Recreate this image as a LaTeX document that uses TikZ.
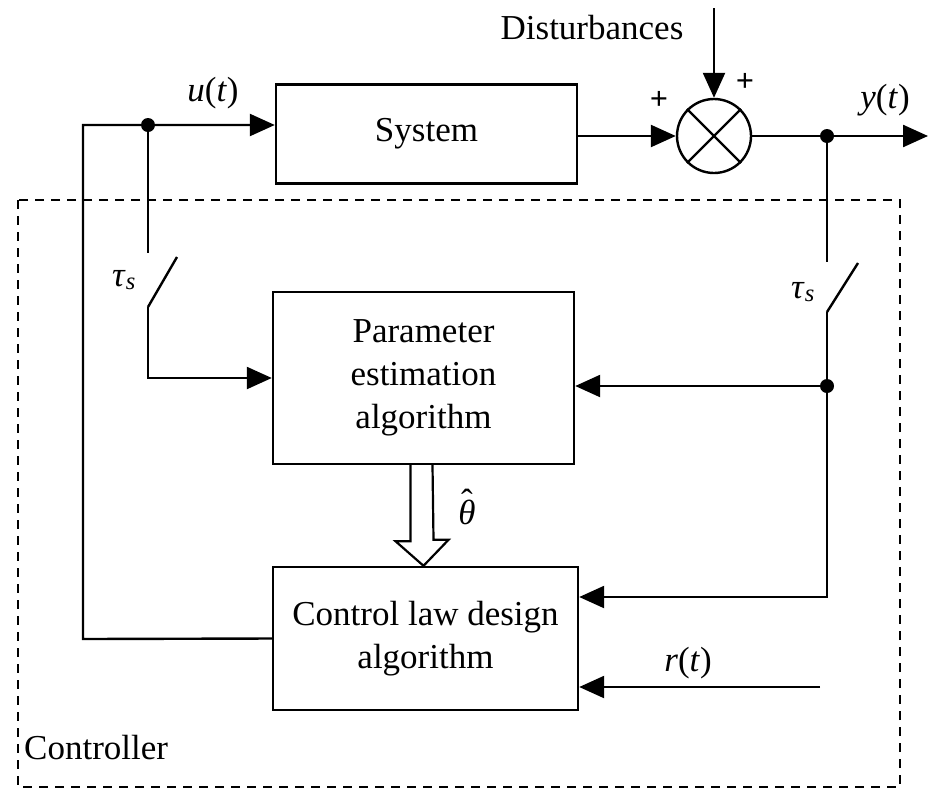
\documentclass[tikz,border=0pt]{standalone}
\usepackage{fontspec}
\setmainfont{Liberation Serif}
\usetikzlibrary{arrows.meta,calc}
\begin{document}
\begin{tikzpicture}[x=1pt,y=-1pt,
  every node/.style={font=\fontsize{35}{43}\selectfont},
  blk/.style={draw,line width=2.4pt,rectangle,inner sep=0pt,align=center},
  wire/.style={line width=2.4pt},
  arr/.style={wire,-{Triangle[length=25pt,width=22pt]}},
  junc/.style={circle,fill=black,inner sep=0pt,minimum size=14pt},
  lbl/.style={inner sep=0pt},
  pm/.style={inner sep=0pt,font=\fontsize{32}{32}\selectfont\bfseries},
  ctrlbox/.style={draw,line width=2.2pt,dash pattern=on 9pt off 7pt}
]
\useasboundingbox (0,0) rectangle (936,796);
% dashed controller boundary
\draw[ctrlbox] (18,200) rectangle (900,787);
\node[lbl,anchor=west] (ctl) at (24,748) {Controller};

% blocks
\node[blk,minimum width=301pt,minimum height=99pt] (sys) at (426.5,134) {System};
\node[blk,minimum width=301pt,minimum height=172pt] (param) at (423.5,378) {Parameter\\estimation\\algorithm};
\node[blk,minimum width=305pt,minimum height=143pt] (ctrl) at (425.5,638.5) {Control law design\\algorithm};
\node[draw,circle,line width=2.4pt,minimum size=74pt,inner sep=0pt] (sum) at (714,136) {};
\draw[wire] (sum.north west) -- (sum.south east);
\draw[wire] (sum.north east) -- (sum.south west);

% coordinates
\coordinate (dist) at (714,8);
\coordinate (yout) at (928,136);
\coordinate (lc) at (83,125);
\coordinate (lb) at (83,639);
\coordinate (sw1a) at (148,253);
\coordinate (sw1b) at (148,307);
\coordinate (sw1c) at (177,257);
\coordinate (sw1d) at (148,378);
\coordinate (sw2a) at (827,262);
\coordinate (sw2b) at (827,312);
\coordinate (sw2c) at (858,263);
\coordinate (sw2d) at (827,597);
\coordinate (rin) at (820,687);
\node[junc] (uj) at (148,125) {};
\node[junc] (yj) at (827,136) {};
\node[junc] (pj) at (827,386) {};

% top path
\draw[arr] (ctrl.west) -- (lb) -- (lc) -- (uj) -- (sys.west |- uj);
\draw[arr] (sys.east |- sum) -- (sum.west);
\draw[arr] (dist) -- (sum.north);
\draw[arr] (sum.east) -- (yj) -- (yout);

% left sampler
\draw[wire] (uj) -- (sw1a);
\draw[wire] (sw1b) -- (sw1c);
\draw[arr] (sw1b) -- (sw1d) -- (param.west |- sw1d);

% right sampler
\draw[wire] (yj) -- (sw2a);
\draw[wire] (sw2b) -- (sw2c);
\draw[wire] (sw2b) -- (pj);
\draw[arr] (pj) -- (param.east |- pj);
\draw[arr] (pj) -- (sw2d) -- (ctrl.east |- sw2d);
\draw[arr] (rin) -- (ctrl.east |- rin);

% parameter estimate (hollow arrow)
\draw[line width=2.2pt,fill=white,line join=miter]
  ([xshift=-13pt]param.south) -- ++(0,76) -- ++(-15,0) -- ($(ctrl.north)+(-2,0)$) -- ++(25,-26) -- ++(-15,0) -- ([xshift=9pt]param.south);

% labels
\node[lbl] (dlab) at (592,28) {Disturbances};
\node[pm] (p1) at (659,100) {+};
\node[pm] (p2) at (745,82) {+};
\node[lbl] (ulab) at (213,93) {\textit{u}(\textit{t})};
\node[lbl] (ylab) at (885,100) {\textit{y}(\textit{t})};
\node[lbl] (t1) at (124,280) {\textit{τ}\textsubscript{\textit{s}}};
\node[lbl] (t2) at (803,292) {\textit{τ}\textsubscript{\textit{s}}};
\node[lbl] (th) at (467,512) {\ooalign{\textit{θ}\cr\hidewidth\raisebox{0.32em}{ˆ}\hidewidth\cr}};
\node[lbl] (rlab) at (688,663) {\textit{r}(\textit{t})};
\end{tikzpicture}
\end{document}
